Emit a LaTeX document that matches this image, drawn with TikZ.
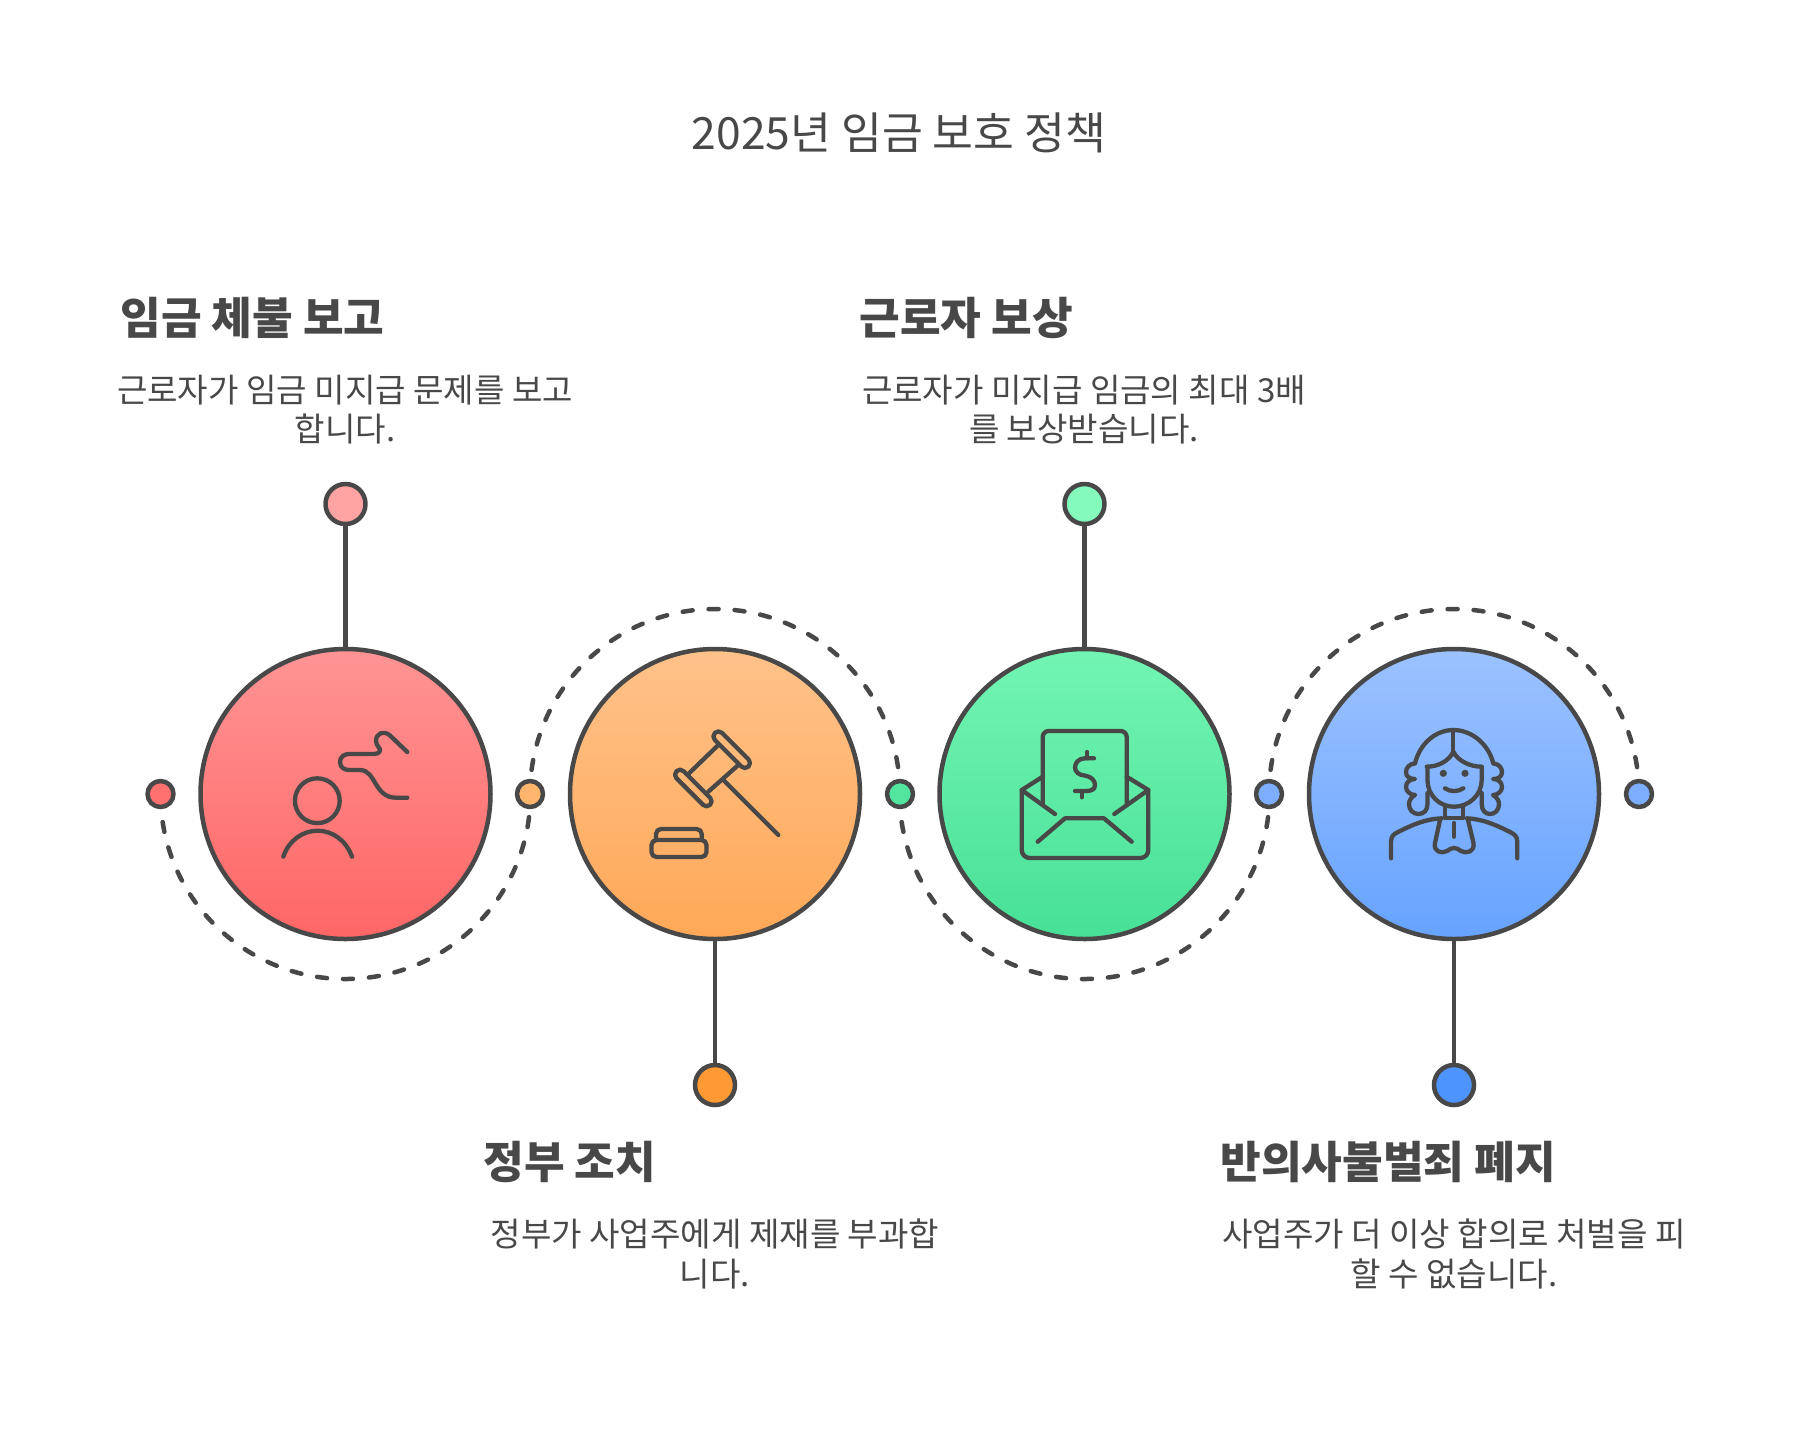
\documentclass[tikz,border=0pt]{standalone}
\usepackage{fontspec}
\setmainfont{Noto Sans CJK KR}
\definecolor{inkc}{HTML}{484848}
\definecolor{rt}{HTML}{FF9494}
\definecolor{rb}{HTML}{FF6666}
\definecolor{rs}{HTML}{FF7070}
\definecolor{ot}{HTML}{FFC28A}
\definecolor{ob}{HTML}{FFA857}
\definecolor{ot2}{HTML}{FFB56E}
\definecolor{gt}{HTML}{73F5B3}
\definecolor{gb}{HTML}{47E096}
\definecolor{gb2}{HTML}{52E59E}
\definecolor{bt}{HTML}{9CC2FF}
\definecolor{bb}{HTML}{66A3FF}
\definecolor{bs}{HTML}{7DADFF}
\definecolor{re}{HTML}{FFA3A3}
\definecolor{oe}{HTML}{FF9933}
\definecolor{ge}{HTML}{85FABD}
\definecolor{be}{HTML}{4D94FF}
\begin{document}
\begin{tikzpicture}[x=0.5pt,y=-0.5pt,
  line join=round,
  ink/.style={draw=inkc,line width=2.25pt},
  icon/.style={draw=inkc,line width=2.15pt,line cap=round,line join=round},
  big/.style={circle,ink,minimum size=145pt,inner sep=0pt},
  smalldot/.style={circle,ink,minimum size=13pt,inner sep=0pt},
  enddot/.style={circle,ink,minimum size=20pt,inner sep=0pt},
  stem/.style={draw=inkc,line width=2.25pt},
  dashline/.style={draw=inkc,line width=2.25pt,line cap=round,dash pattern=on 5pt off 8pt},
  head/.style={anchor=west,inner sep=0pt,text=inkc,font=\fontsize{22.1}{26}\selectfont\bfseries},
  desc/.style={anchor=center,inner sep=0pt,align=center,text=inkc,font=\fontsize{16.55}{19.6}\selectfont},
  descb/.style={anchor=center,inner sep=0pt,align=center,text=inkc,font=\fontsize{16.55}{20.3}\selectfont},
]
\useasboundingbox[fill=white] (0,0) rectangle (1800,1431);

\node[anchor=center,inner sep=0pt,text=inkc,font=\fontsize{22.2}{26}\selectfont] (title) at (899,133) {2025년 임금 보호 정책};

% big circles
\node[big,top color=rt,bottom color=rb] (c1) at (345.5,794) {};
\node[big,top color=ot,bottom color=ob] (c2) at (715,794) {};
\node[big,top color=gt,bottom color=gb] (c3) at (1084.5,794) {};
\node[big,top color=bt,bottom color=bb] (c4) at (1454,794) {};

% small dots
\node[smalldot,fill=rs] (s1) at (160.5,794) {};
\node[smalldot,fill=ot2] (s2) at (530,794) {};
\node[smalldot,fill=gb2] (s3) at (900,794) {};
\node[smalldot,fill=bs] (s4) at (1269,794) {};
\node[smalldot,fill=bs] (s5) at (1639,794) {};

% end dots
\node[enddot,fill=re] (e1) at (345.5,504) {};
\node[enddot,fill=oe] (e2) at (715,1085) {};
\node[enddot,fill=ge] (e3) at (1084.5,504) {};
\node[enddot,fill=be] (e4) at (1454,1085) {};

\draw[stem] (e1) -- (c1);
\draw[stem] (e2) -- (c2);
\draw[stem] (e3) -- (c3);
\draw[stem] (e4) -- (c4);

% dashed arcs
\draw[dashline] ([shift={(188.7:92.5pt)}]c1.center) arc[start angle=188.7,end angle=355,radius=92.5pt];
\draw[dashline] ([shift={(172.5:92.5pt)}]c2.center) arc[start angle=172.5,end angle=5,radius=92.5pt];
\draw[dashline] ([shift={(188.7:92.5pt)}]c3.center) arc[start angle=188.7,end angle=355,radius=92.5pt];
\draw[dashline] ([shift={(172.5:92.5pt)}]c4.center) arc[start angle=172.5,end angle=5,radius=92.5pt];

% texts
\node[head] (h1) at (120,317.5) {임금 체불 보고};
\node[desc] (d1) at (345,409.5) {근로자가 임금 미지급 문제를 보고\\합니다.};
\node[head] (h2) at (483,1162) {정부 조치};
\node[descb] (d2) at (715,1254) {정부가 사업주에게 제재를 부과합\\니다.};
\node[head] (h3) at (859,317.5) {근로자 보상};
\node[desc] (d3) at (1084,409.5) {근로자가 미지급 임금의 최대 3배\\를 보상받습니다.};
\node[head] (h4) at (1220,1162) {반의사불벌죄 폐지};
\node[descb] (d4) at (1454,1254) {사업주가 더 이상 합의로 처벌을 피\\할 수 없습니다.};

% icon 1: person
\draw[icon] (317.3,800.7) circle[radius=11.2pt];
\draw[icon] (283.3,856.7) .. controls (289,840) and (303,830.7) .. (317.6,830.7) .. controls (332,830.7) and (346,840) .. (352,856.7);
\draw[icon] (407.3,752) -- (390,735.5) .. controls (384,730) and (376,733) .. (376,741) .. controls (376,746) and (381,748) .. (380,751) .. controls (379.5,753) and (377,754) .. (374,754) -- (349,754) .. controls (344,754) and (340,757) .. (340,762) .. controls (340,767) and (344,770) .. (349,770) -- (360,770) .. controls (376,770) and (374,797.7) .. (396,797.7) -- (407.3,797.7);

% icon 2: gavel
\draw[icon,shift={(731.7,749.7)},rotate=-45,rounded corners=2.4pt] (-23.7,-5) rectangle (23.7,5);
\draw[icon,shift={(693.3,788)},rotate=-45,rounded corners=2.4pt] (-23.7,-5) rectangle (23.7,5);
\draw[icon] (718.3,745) -- (688.3,774);
\draw[icon] (738.3,765) -- (708.3,791.7);
\draw[icon] (723.3,780) -- (778.3,835);
\draw[icon,rounded corners=2.5pt] (656,840) -- (656,829) -- (701.7,829) -- (701.7,840);
\draw[icon,rounded corners=2.5pt] (651.5,840) rectangle (706.5,857);

% icon 3: envelope
\draw[icon,rounded corners=3pt] (1042.7,805) -- (1042.7,731) -- (1126.7,731) -- (1126.7,805);
\draw[icon,rounded corners=4pt] (1021.7,790) -- (1021.7,858) -- (1148.3,858) -- (1148.3,790);
\draw[icon] (1042.7,776.7) -- (1021.7,790) -- (1055,814);
\draw[icon] (1126.7,776.7) -- (1148.3,790) -- (1114.3,814);
\draw[icon] (1037.7,841.7) -- (1065,818.3) -- (1104,818.3) -- (1131.7,841.7);
\draw[icon] (1087.3,752) -- (1087.3,758.3);
\draw[icon] (1081.7,791.7) -- (1081.7,797.3);
\draw[icon] (1094,758.3) -- (1085,758.3) .. controls (1078.5,758.3) and (1075,763) .. (1075,767.5) .. controls (1075,772) and (1079,775) .. (1084.5,775.5) .. controls (1091,776.5) and (1095,780) .. (1095,785) .. controls (1095,790) and (1091,791) .. (1085,791) -- (1075,791);

% icon 4: judge
\draw[icon] (1415,763.3) .. controls (1420,743) and (1436,730) .. (1453.3,730) .. controls (1471,730) and (1488,743) .. (1493.3,763.3);
\draw[icon] (1453.3,730) -- (1453.3,751.7);
\draw[icon] (1426.7,766.7) .. controls (1438,766.7) and (1449,761) .. (1453.3,751.7) .. controls (1458,761) and (1470,766.7) .. (1481.7,766.7);
\draw[icon] (1427.5,766.7) -- (1427.5,780) .. controls (1427.5,795) and (1439,806.7) .. (1454,806.7) .. controls (1469,806.7) and (1481.7,795) .. (1481.7,780) -- (1481.7,766.7);
% left curls
\draw[icon] (1415,763.3) .. controls (1409,764) and (1406,768) .. (1406,772) .. controls (1406,777) and (1410,779) .. (1415,779) .. controls (1410,779) and (1406,782) .. (1406,787) .. controls (1406,791) and (1410,795) .. (1415,795) .. controls (1411,797) and (1409,801) .. (1409,804) .. controls (1409,810) and (1413,814) .. (1418.5,814) .. controls (1424,814) and (1427.5,810) .. (1427.5,804) -- (1427.5,793);
% right curls
\draw[icon] (1493.3,763.3) .. controls (1499,764) and (1502,768) .. (1502,772) .. controls (1502,777) and (1498,779) .. (1493,779) .. controls (1498,779) and (1502,782) .. (1502,787) .. controls (1502,791) and (1498,795) .. (1493,795) .. controls (1497,797) and (1499,801) .. (1499,804) .. controls (1499,810) and (1495,814) .. (1490,814) .. controls (1485,814) and (1481.7,810) .. (1481.7,804) -- (1481.7,793);
\fill[inkc] (1443.3,773.3) circle[radius=1.8pt];
\fill[inkc] (1465,773.3) circle[radius=1.8pt];
\draw[icon] (1445,788.3) .. controls (1450,792) and (1458,792) .. (1463.3,788.3);
% collar, tie, shoulders
\draw[icon] (1445,808) -- (1445,818.3) -- (1463.3,818.3) -- (1463.3,808);
\draw[icon] (1440,820) -- (1435,843) .. controls (1433,852) and (1442,854) .. (1447,851) .. controls (1452,847) and (1456,847) .. (1461,851) .. controls (1466,854) and (1475,852) .. (1473.5,843) -- (1468,820);
\draw[icon] (1454,823) -- (1454,836.7);
\draw[icon] (1391,858.3) -- (1391,841.7) .. controls (1391,836) and (1394,834) .. (1398,832) .. controls (1412,825) and (1425,819) .. (1441.7,818.3);
\draw[icon] (1517.3,858.3) -- (1517.3,841.7) .. controls (1517.3,836) and (1514,834) .. (1510,832) .. controls (1496,825) and (1483,819) .. (1466.7,818.3);
\end{tikzpicture}
\end{document}
